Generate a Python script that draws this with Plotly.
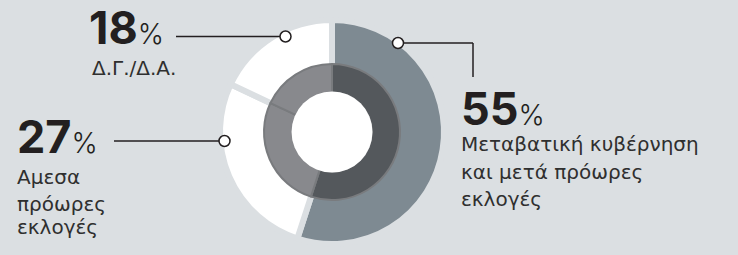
import plotly.graph_objects as go

W, H = 738, 255

# ---- data ----
categories = ["Μεταβατική κυβέρνηση και μετά πρόωρες εκλογές", "Αμεσα πρόωρες εκλογές", "Δ.Γ./Δ.Α."]
values = [55, 27, 18]
pct_labels = ["55", "27", "18"]
sub_labels = [["Μεταβατική κυβέρνηση", "και μετά πρόωρες", "εκλογές"],
              ["Αμεσα", "πρόωρες", "εκλογές"],
              ["Δ.Γ./Δ.Α."]]

# ---- style ----
BG = "#dbdfe2"
outer_colors = ["#7e8a92", "#ffffff", "#ffffff"]
inner_colors = ["#54585c", "#88898d", "#88898d"]
DARK = "#231f20"
TXT = "#2f2f2f"
BIGFONT = "Inter"
SUBFONT = "DejaVu Sans"

CX, CY = 332, 132


def dom(r):
    return dict(x=[(CX - r) / W, (CX + r) / W], y=[1 - (CY + r) / H, 1 - (CY - r) / H])


fig = go.Figure()

# outer ring
GAP = 6
R_OUT = 109 + GAP / 2
fig.add_trace(go.Pie(values=values, labels=categories, sort=False, direction="clockwise", rotation=0,
                     hole=60 / R_OUT, domain=dom(R_OUT), textinfo="none", hoverinfo="label+percent",
                     marker=dict(colors=outer_colors, line=dict(color=BG, width=GAP)),
                     showlegend=False))
# inner ring
R_IN = 68
fig.add_trace(go.Pie(values=values, labels=categories, sort=False, direction="clockwise", rotation=0,
                     hole=39.5 / R_IN, domain=dom(R_IN), textinfo="none", hoverinfo="label+percent",
                     marker=dict(colors=inner_colors, line=dict(color="#797b7e", width=2)),
                     showlegend=False))
# white centre
fig.add_trace(go.Pie(values=[1], labels=[""], sort=False, domain=dom(40.5), textinfo="none",
                     hoverinfo="skip", marker=dict(colors=["#ffffff"], line=dict(width=0)),
                     showlegend=False))

# leader lines (pixel coordinates on a hidden axis), drawn as shapes above the pies
leaders = [
    ([398, 473, 473], [43, 43, 77]),      # 55%
    ([114, 224.5], [141, 141]),          # 27%
    ([176, 285.5], [36.5, 36.5]),        # 18%
]
dots = [(398, 43), (224.5, 141), (285.5, 36.5)]
shapes = []
for lx, ly in leaders:
    for k in range(len(lx) - 1):
        shapes.append(dict(type="line", xref="x", yref="y", x0=lx[k], y0=ly[k], x1=lx[k + 1], y1=ly[k + 1],
                           line=dict(color=DARK, width=1.5), layer="above"))
for dx, dy in dots:
    shapes.append(dict(type="circle", xref="x", yref="y", xsizemode="pixel", ysizemode="pixel",
                       xanchor=dx, yanchor=dy, x0=-5.5, x1=5.5, y0=-5.5, y1=5.5,
                       fillcolor="white", line=dict(color=DARK, width=1.5), layer="above"))

annotations = []
BIG = 45
PCT = 28
SUB = 20


def add_text(text, x, baseline, size, color, family, weight=400):
    annotations.append(dict(text=text, x=x / W, y=1 - (baseline - 0.36 * size) / H, xref="paper", yref="paper",
                            xanchor="left", yanchor="middle", showarrow=False,
                            font=dict(family=family, size=size, color=color, weight=weight)))


big_pos = [(459, 125), (15, 153), (87, 44)]
sub_pos = [(459, [151, 179, 206]), (15, [184, 211, 234]), (90, [75])]
for i in range(3):
    bx, bb = big_pos[i]
    add_text(f"<b>{pct_labels[i]}</b><span style='font-size:{PCT}px;font-weight:300'>%</span>",
             bx, bb, BIG, DARK, BIGFONT)
    sx, sbs = sub_pos[i]
    for line, sb in zip(sub_labels[i], sbs):
        add_text(line, sx, sb, SUB, TXT, SUBFONT)

fig.update_layout(
    width=W, height=H, margin=dict(l=0, r=0, t=0, b=0),
    paper_bgcolor=BG, plot_bgcolor=BG,
    xaxis=dict(range=[0, W], visible=False, fixedrange=True),
    yaxis=dict(range=[H, 0], visible=False, fixedrange=True),
    annotations=annotations, shapes=shapes,
)

fig.write_html("out.html", config={"displayModeBar": False},
               post_script="document.body.style.margin='0';document.body.style.background='%s';" % BG)
